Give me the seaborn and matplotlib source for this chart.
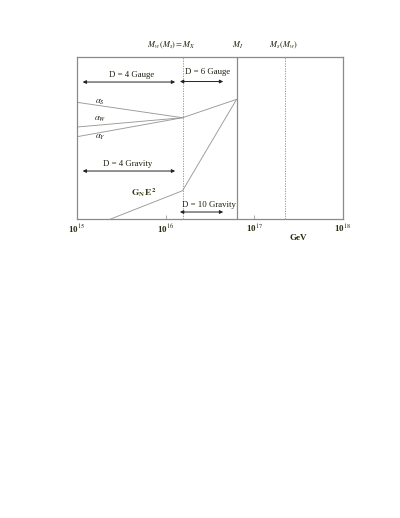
import matplotlib
matplotlib.use("Agg")
import matplotlib.pyplot as plt
import seaborn as sns
import pandas as pd
import numpy as np

# log10(E/GeV) positions of scales
log_start = 15.0
log_MX = 16.19
log_MI = 16.80
log_Ms = 17.35
log_grav_start = 15.38

# couplings (arbitrary units)
alpha_S = [116.7, 101.3]
alpha_W = [92.0, 101.3]
alpha_Y = [82.3, 101.3]
unified = [101.3, 119.7]
gravity_x = [log_grav_start, log_MX, log_MI]
gravity_y = [0.0, 28.3, 119.7]

tick_logs = [15, 16, 17, 18]
tick_labels = ["10$^{15}$", "10$^{16}$", "10$^{17}$", "10$^{18}$"]

sns.set_theme(style="white")
plt.rcParams['font.family'] = ['Liberation Serif', 'DejaVu Serif']
plt.rcParams['mathtext.fontset'] = 'stix'

fig = plt.figure(figsize=(4.0, 5.18), dpi=100)
ax = fig.add_axes([0.1925, 0.5772, 0.665, 0.3127])

rows = []
for name, ys in [("aS", alpha_S), ("aW", alpha_W), ("aY", alpha_Y)]:
    for x, y in zip([log_start, log_MX], ys):
        rows.append(dict(series=name, E=10 ** x, y=y))
for x, y in zip([log_MX, log_MI], unified):
    rows.append(dict(series="uni", E=10 ** x, y=y))
for x, y in zip(gravity_x, gravity_y):
    rows.append(dict(series="grav", E=10 ** x, y=y))
df = pd.DataFrame(rows)

line_col = "#999999"
sns.lineplot(data=df, x="E", y="y", units="series", estimator=None,
             color=line_col, lw=0.65, ax=ax, sort=False, legend=False)

ax.set_xscale("log")
ax.set_xlim(1e15, 1e18)
ax.set_ylim(0, 162)
ax.set_yticks([])
ax.set_xticks([10.0 ** t for t in tick_logs])
ax.minorticks_off()
ax.set_xticklabels([])
ax.tick_params(axis="x", direction="in", length=3, width=0.6, color="#999999", bottom=True)
ax.set_xlabel("")
ax.set_ylabel("")
for s in ax.spines.values():
    s.set_color("#8a8a8a")
    s.set_linewidth(0.9)

# vertical lines
ax.axvline(10 ** log_MX, color="#8a8a8a", lw=0.6, ls=(0, (1.5, 1.5)))
ax.axvline(10 ** log_MI, color="#8a8a8a", lw=0.9)
ax.axvline(10 ** log_Ms, color="#8a8a8a", lw=0.6, ls=(0, (1.5, 1.5)))

txt = "#1e1e10"
fs = 6.3

def arrow(x0, x1, y):
    ax.annotate("", xy=(10 ** x1, y), xytext=(10 ** x0, y),
                arrowprops=dict(arrowstyle="<|-|>", color="#222222", lw=0.7,
                                mutation_scale=5, shrinkA=0, shrinkB=0))

arrow(15.064, 16.107, 137)
arrow(16.161, 16.649, 137.5)
arrow(15.064, 16.107, 48)
arrow(16.161, 16.649, 7)

ax.text(10 ** 15.61, 144, "D = 4 Gauge", ha="center", va="center", fontsize=fs, color=txt)
ax.text(10 ** 16.473, 147, "D = 6 Gauge", ha="center", va="center", fontsize=fs, color=txt)
ax.text(10 ** 15.575, 55.5, "D = 4 Gravity", ha="center", va="center", fontsize=fs, color=txt)
ax.text(10 ** 16.49, 14.5, "D = 10 Gravity", ha="center", va="center", fontsize=fs, color=txt)

ax.text(10 ** 15.26, 117, r"$\alpha_S$", ha="center", va="center", fontsize=fs, color=txt)
ax.text(10 ** 15.26, 100, r"$\alpha_W$", ha="center", va="center", fontsize=fs, color=txt)
ax.text(10 ** 15.26, 82, r"$\alpha_Y$", ha="center", va="center", fontsize=fs, color=txt)
ax.text(10 ** 15.75, 26.5, r"$\mathbf{G_N\,E^2}$", ha="center", va="center", fontsize=6.8,
        color="#3a3a12")

# top labels
ax.text(10 ** 16.06, 174, r"$M_w\,(M_s) = M_X$", ha="center", va="center", fontsize=6, color=txt)
ax.text(10 ** 16.81, 174, r"$M_I$", ha="center", va="center", fontsize=6, color=txt)
ax.text(10 ** 17.33, 174, r"$M_s\,(M_w)$", ha="center", va="center", fontsize=6, color=txt)

# tick labels
for t, lab in zip(tick_logs, tick_labels):
    ax.text(10.0 ** t, -9.5, lab, ha="center", va="center", fontsize=6.5,
            color="#2a2a10", fontweight="bold")
ax.text(10 ** 17.50, -18.5, "GeV", ha="center", va="center", fontsize=6.5,
        color="#2a2a10", fontweight="bold")

fig.savefig("out.png", dpi=100, facecolor="white")
